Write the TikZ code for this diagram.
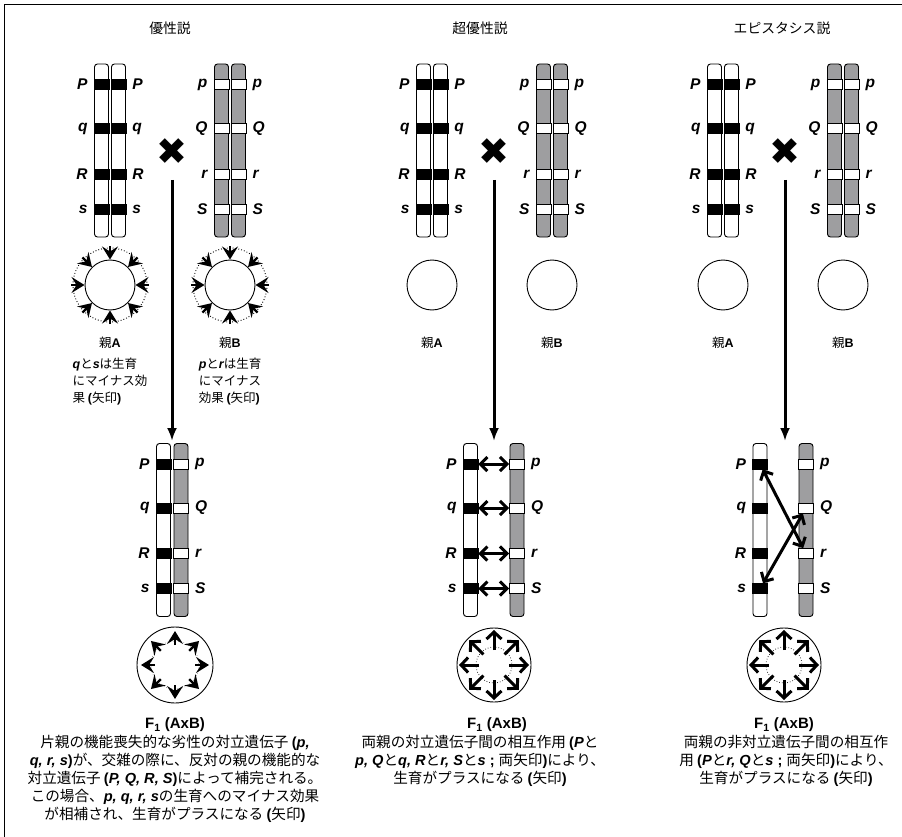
\documentclass[tikz,border=0pt]{standalone}
\usepackage{fontspec}
\newfontfamily\jp{Noto Sans CJK JP}
\newfontfamily\lat{Liberation Sans}
\newfontfamily\dv{DejaVu Sans}
\usetikzlibrary{arrows.meta,positioning,calc}
\definecolor{chromgray}{RGB}{158,158,160}
\newcommand{\gi}[1]{{\lat\bfseries\itshape #1}}
\newcommand{\gb}[1]{{\lat\bfseries #1}}

\begin{document}
\begin{tikzpicture}[x=1pt,y=-1pt,
    every node/.style={font=\jp},
    chrw/.style={draw, rounded corners=3pt, fill=white, minimum width=14pt, minimum height=173pt, inner sep=0pt, line width=0.9pt},
    chrg/.style={chrw, fill=chromgray},
    bandk/.style={draw, fill=black, minimum width=15pt, minimum height=10pt, inner sep=0pt, line width=0.5pt},
    bandw/.style={draw, fill=white, minimum width=15pt, minimum height=10pt, inner sep=0pt, line width=0.9pt},
    gene/.style={font=\lat\bfseries\itshape\fontsize{15.5}{15.5}\selectfont, inner sep=0pt},
    title/.style={font=\jp\fontsize{13.8}{16}\selectfont},
    parent/.style={font=\jp\fontsize{12.5}{17}\selectfont, inner sep=0pt},
    note/.style={font=\jp\fontsize{12.5}{17}\selectfont, align=left, inner sep=0pt},
    flab/.style={font=\lat\bfseries\fontsize{15}{15}\selectfont, inner sep=0pt},
    body/.style={font=\jp\fontsize{14.6}{18}\selectfont, align=center, inner sep=0pt, anchor=north},
    cell/.style={circle, draw, minimum size=50pt, inner sep=0pt, line width=0.9pt},
    cross/.style={line width=3pt, -{Latex[length=13pt,width=10pt]}},
    dbl/.style={line width=3pt, {Straight Barb[length=7pt,width=14pt]}-{Straight Barb[length=7pt,width=14pt]}},
    outarr/.style={line width=3pt, -{Straight Barb[length=7pt,width=15pt]}},
    bighead/.style={line width=2.2pt, -{Stealth[length=13pt,width=16pt,inset=5pt]}}
]
\useasboundingbox (0,0) rectangle (902,837);
\draw[line width=1pt] (4,837) -- (4,5) -- (902,5);

% column titles
\node[title] (tL) at (170,28) {優性説};
\node[title] (tM) at (480,28) {超優性説};
\node[title] (tR) at (782,28) {エピスタシス説};

% parents A (white) and B (gray)
\foreach \c/\n in {170/L,492/M,783/R}{
  \node[chrw] (\n-A1) at (\c-68.5,150.5) {};
  \node[chrw] (\n-A2) at (\c-51.5,150.5) {};
  \node[chrg] (\n-B1) at (\c+51.5,150.5) {};
  \node[chrg] (\n-B2) at (\c+68.5,150.5) {};
  \foreach \dy/\ga/\gbb [count=\i] in {21/P/p,65/q/Q,110.5/R/r,145.5/s/S}{
    \node[bandk] (\n-a1-\i) at ($(\n-A1.north)+(0,\dy)$) {};
    \node[bandk] (\n-a2-\i) at ($(\n-A2.north)+(0,\dy)$) {};
    \node[bandw] (\n-b1-\i) at ($(\n-B1.north)+(0,\dy)$) {};
    \node[bandw] (\n-b2-\i) at ($(\n-B2.north)+(0,\dy)$) {};
    \node[gene, left=6pt of \n-a1-\i] (\n-ga1-\i) {\ga};
    \node[gene, right=6pt of \n-a2-\i] (\n-ga2-\i) {\ga};
    \node[gene, left=6pt of \n-b1-\i] (\n-gb1-\i) {\gbb};
    \node[gene, right=6pt of \n-b2-\i] (\n-gb2-\i) {\gbb};
  }
}

% crossing mark and arrow down to F1
\foreach \x/\n in {172/L,494/M,785/R}{
  \node[font=\dv\fontsize{37}{37}\selectfont, inner sep=0pt] (\n-x) at (\x,152) {✖};
  \coordinate (\n-top) at (\x,180);
  \coordinate (\n-end) at (\x,441);
  \draw[cross] (\n-top) -- (\n-end);
}

% parent cells
\foreach \x/\n in {110/L-cA,230/L-cB,432/M-cA,552/M-cB,723/R-cA,843/R-cB}
  \node[cell] (\n) at (\x,285) {};
\foreach \n in {L-cA,L-cB}{
  \draw[dotted, line width=0.9pt] (\n) circle (37);
  \foreach \a in {0,45,...,315}
    \draw[bighead] ($(\n)+(\a:39)$) -- ($(\n)+(\a:25.5)$);
}

% parent labels
\foreach \x/\n/\t in {110/L-pA/A,230/L-pB/B,432/M-pA/A,552/M-pB/B,723/R-pA/A,843/R-pB/B}
  \node[parent] (\n) at (\x,343) {親\gb{\t}};
\node[note, below=9pt of L-pA] (L-nA) {\gi{q}と\gi{s}は生育\\にマイナス効\\果 \gb{(}矢印\gb{)}};
\node[note, below=9pt of L-pB] (L-nB) {\gi{p}と\gi{r}は生育\\にマイナス\\効果 \gb{(}矢印\gb{)}};

% F1 chromosomes
\foreach \n/\xw/\xg in {L/163.5/181,M/470.5/517,R/760/806}{
  \node[chrw] (\n-F1) at (\xw,530) {};
  \node[chrg] (\n-F2) at (\xg,530) {};
  \foreach \dy/\ga/\gbb [count=\i] in {21/P/p,65/q/Q,110.5/R/r,145.5/s/S}{
    \node[bandk] (\n-f1-\i) at ($(\n-F1.north)+(0,\dy)$) {};
    \node[bandw] (\n-f2-\i) at ($(\n-F2.north)+(0,\dy)$) {};
    \node[gene, left=6pt of \n-f1-\i] (\n-gf1-\i) {\ga};
    \node[gene, right=6pt of \n-f2-\i] (\n-gf2-\i) {\gbb};
  }
}
\foreach \i in {1,...,4}
  \draw[dbl] (M-f1-\i) -- (M-f2-\i);
\draw[dbl] (R-f1-1) -- (R-f2-3);
\draw[dbl] (R-f2-2) -- (R-f1-4);

% F1 cells
\node[cell, minimum size=76pt] (L-cF) at (175,665) {};
\draw[dotted, gray, line width=0.7pt] (L-cF) circle (24);
\foreach \a in {0,45,...,315}
  \draw[bighead] ($(L-cF)+(\a:20)$) -- ($(L-cF)+(\a:34)$);
\foreach \x/\n in {494/M-cF,784/R-cF}{
  \node[cell, minimum size=74pt] (\n) at (\x,665) {};
  \draw[dotted, line width=0.7pt] (\n) circle (18);
  \foreach \a in {0,45,...,315}
    \draw[outarr] ($(\n)+(\a:15)$) -- ($(\n)+(\a:35)$);
}

% F1 captions
\node[flab] (L-fl) at (175,725) {F\textsubscript{1} (AxB)};
\node[flab] (M-fl) at (497,725) {F\textsubscript{1} (AxB)};
\node[flab] (R-fl) at (784,725) {F\textsubscript{1} (AxB)};
\node[body] (L-txt) at (175,735) {片親の機能喪失的な劣性の対立遺伝子 \gb{(}\gi{p,}\\
  \gi{q, r, s}\gb{)}が、交雑の際に、反対の親の機能的な\\
  対立遺伝子 \gb{(}\gi{P, Q, R, S}\gb{)}によって補完される。\\
  この場合、\gi{p, q, r, s}の生育へのマイナス効果\\
  が相補され、生育がプラスになる \gb{(}矢印\gb{)}};
\node[body] (M-txt) at (480,735) {両親の対立遺伝子間の相互作用 \gb{(}\gi{P}と\\
  \gi{p, Q}と\gi{q, R}と\gi{r, S}と\gi{s}\gb{ ; }両矢印\gb{)}により、\\
  生育がプラスになる \gb{(}矢印\gb{)}};
\node[body] (R-txt) at (786,735) {両親の非対立遺伝子間の相互作\\
  用 \gb{(}\gi{P}と\gi{r, Q}と\gi{s}\gb{ ; }両矢印\gb{)}により、\\
  生育がプラスになる \gb{(}矢印\gb{)}};
\end{tikzpicture}
\end{document}
